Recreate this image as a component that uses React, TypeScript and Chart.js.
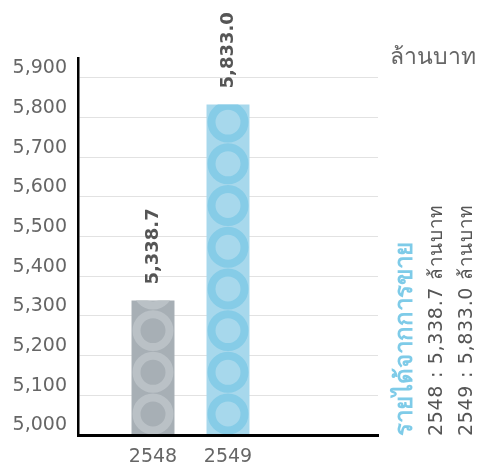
import React, { useEffect, useRef } from "react";
import { Chart, registerables } from "chart.js";

Chart.register(...registerables);

const years = ["2548", "2549"];
const revenue = [5338.7, 5833.0];
const revenueLabels = ["5,338.7", "5,833.0"];
const barColors = ["#a7afb5", "#a7d8ec"];
const ringColors = ["#bac1c6", "#86cce7"];
const yMin = 5000;
const yMax = 5950;
const yStep = 100;
const unitText = "ล้านบาท";
const titleText = "รายได้จากการขาย";
const summaryLines = ["2548 : 5,338.7 ล้านบาท", "2549 : 5,833.0 ล้านบาท"];

const paddedLabels = ["", ...years, "", ""];
const paddedValues: (number | null)[] = [null, ...revenue, null, null];

const FONT = "'DejaVu Sans', sans-serif";

const ringsPlugin = {
  id: "rings",
  afterDatasetsDraw(chart: any) {
    const ctx = chart.ctx;
    const meta = chart.getDatasetMeta(0);
    const bottom = chart.chartArea.bottom;
    meta.data.forEach((bar: any, i: number) => {
      const v = paddedValues[i];
      if (v == null) return;
      const ci = i - 1;
      const { x, y, base, width } = bar.getProps(["x", "y", "base", "width"], true);
      const b = Math.min(base, bottom);
      const left = x - width / 2;
      ctx.save();
      ctx.beginPath();
      ctx.rect(left, y, width, b - y);
      ctx.clip();
      const r = width / 2 - 1;
      const spacing = 41.7;
      ctx.strokeStyle = ringColors[ci];
      ctx.lineWidth = 8;
      for (let cy = b - r; cy + r > y; cy -= spacing) {
        ctx.beginPath();
        ctx.arc(x, cy, r - 4, 0, Math.PI * 2);
        ctx.stroke();
      }
      ctx.restore();
      // value label
      ctx.save();
      ctx.translate(x, y - 16);
      ctx.rotate(-Math.PI / 2);
      ctx.font = `bold 18px ${FONT}`;
      ctx.fillStyle = "#555555";
      ctx.textAlign = "left";
      ctx.textBaseline = "middle";
      ctx.fillText(revenueLabels[ci], 0, 0);
      ctx.restore();
    });
  },
};

const sideTextPlugin = {
  id: "sideText",
  afterDraw(chart: any) {
    const ctx = chart.ctx;
    ctx.save();
    ctx.font = `23px ${FONT}`;
    ctx.fillStyle = "#666666";
    ctx.textAlign = "right";
    ctx.textBaseline = "middle";
    ctx.fillText(unitText, 476, 58);
    ctx.restore();

    const drawRot = (text: string, x: number, font: string, color: string, spacing: string) => {
      ctx.save();
      ctx.translate(x, 436);
      ctx.rotate(-Math.PI / 2);
      ctx.font = font;
      (ctx as any).letterSpacing = spacing;
      ctx.fillStyle = color;
      ctx.textAlign = "left";
      ctx.textBaseline = "middle";
      ctx.fillText(text, 0, 0);
      ctx.restore();
    };
    drawRot(titleText, 406, `bold 24px ${FONT}`, "#7ecbe8", "0px");
    drawRot(summaryLines[0], 437, `19px ${FONT}`, "#555555", "0.7px");
    drawRot(summaryLines[1], 467, `19px ${FONT}`, "#555555", "0.7px");
  },
};

export default function App() {
  const ref = useRef<HTMLCanvasElement | null>(null);
  useEffect(() => {
    if (!ref.current) return;
    const chart = new Chart(ref.current, {
      type: "bar",
      data: {
        labels: paddedLabels,
        datasets: [
          {
            data: paddedValues,
            base: yMin,
            backgroundColor: ["#000", ...barColors, "#000", "#000"],
            borderWidth: 0,
            categoryPercentage: 1,
            barPercentage: 0.573,
          },
        ],
      },
      options: {
        animation: false,
        responsive: false,
        maintainAspectRatio: false,
        layout: { padding: { top: 58, right: 103, left: 0, bottom: 0 } },
        plugins: { legend: { display: false }, tooltip: { enabled: false } },
        scales: {
          x: {
            offset: false,
            grid: { display: false, drawTicks: false },
            border: { display: true, color: "#000", width: 3, z: 1 },
            ticks: {
              color: "#666666",
              font: { family: FONT, size: 19 },
              padding: 11,
              autoSkip: false,
              maxRotation: 0,
            },
            afterFit(scale: any) {
              scale.height = 29;
            },
          },
          y: {
            min: yMin,
            max: yMax,
            grid: { color: "#e2e2e2", lineWidth: 1, drawTicks: false },
            border: { display: true, color: "#000", width: 2.5, z: 1 },
            ticks: {
              stepSize: yStep,
              includeBounds: false,
              color: "#666666",
              font: { family: FONT, size: 19 },
              padding: 11,
              align: "end",
              callback: (v: any) => Number(v).toLocaleString("en-US"),
            },
            afterFit(scale: any) {
              scale.width = 78;
            },
          },
        },
      },
      plugins: [ringsPlugin, sideTextPlugin],
    } as any);
    return () => chart.destroy();
  }, []);
  return (
    <div style={{ position: "absolute", left: 0, top: 0, width: 481, height: 464 }}>
      <canvas ref={ref} width={481} height={464} />
    </div>
  );
}
